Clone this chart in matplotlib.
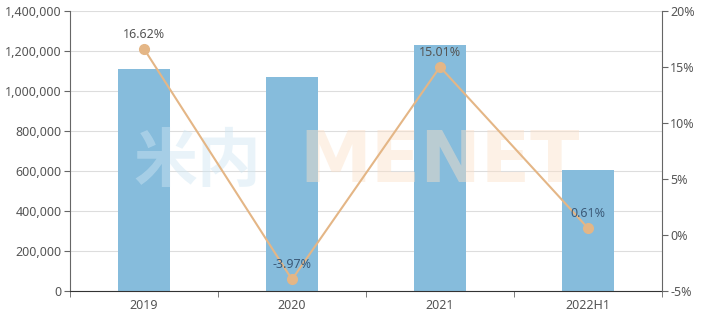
import matplotlib
matplotlib.use("Agg")
import matplotlib.pyplot as plt
from matplotlib.ticker import FuncFormatter, FixedLocator

plt.rcParams['font.family'] = ['Noto Sans', 'DejaVu Sans']

categories = ['2019', '2020', '2021', '2022H1']
volume = [1110000, 1068000, 1230000, 605000]
growth = [16.62, -3.97, 15.01, 0.61]

bar_color = '#86bcdc'
line_color = '#e4b686'
text_color = '#555555'
axis_color = '#666666'

fig = plt.figure(figsize=(7.02, 3.18), dpi=100)
ax = fig.add_axes([70 / 702, 27 / 318, 592 / 702, 280 / 318])
x = list(range(len(categories)))

ax.bar(x, volume, width=0.35, color=bar_color, zorder=2)
ax.set_xlim(-0.5, len(categories) - 0.5)
ax.set_ylim(0, 1400000)
ax.set_yticks(range(0, 1400001, 200000))
ax.yaxis.set_major_formatter(FuncFormatter(lambda v, p: f'{int(v):,}'))
ax.set_xticks(x)
ax.set_xticklabels(categories)
ax.xaxis.set_minor_locator(FixedLocator([i - 0.5 for i in range(len(categories) + 1)]))
ax.tick_params(axis='x', which='major', length=0, pad=6, labelsize=9, labelcolor=text_color)
ax.tick_params(axis='x', which='minor', length=4, color=axis_color)
ax.tick_params(axis='y', length=4, color=axis_color, labelsize=9, labelcolor=text_color, pad=2)
ax.grid(axis='y', color='#dddddd', linewidth=0.8, zorder=0)
for side in ['top', 'right']:
    ax.spines[side].set_visible(False)
ax.spines['left'].set_color(axis_color)
ax.spines['bottom'].set_color('#333333')

# faint watermark over the bars
ax.text(0.215, 0.46, '米内', transform=ax.transAxes, fontsize=46, fontweight='bold',
        color='#cfe6f3', alpha=0.45, ha='center', va='center', zorder=2.5,
        family=['Noto Sans CJK SC', 'DejaVu Sans'])
ax.text(0.625, 0.46, 'MENET', transform=ax.transAxes, fontsize=52, fontweight='bold',
        color='#fbe0c8', alpha=0.45, ha='center', va='center', zorder=2.5,
        family=['DejaVu Sans'])

ax2 = ax.twinx()
ax2.set_ylim(-5, 20)
ax2.set_yticks(range(-5, 21, 5))
ax2.yaxis.set_major_formatter(FuncFormatter(lambda v, p: f'{int(v)}%'))
ax2.tick_params(axis='y', length=4, color=axis_color, labelsize=9, labelcolor=text_color, pad=2)
for side in ['top', 'left', 'bottom']:
    ax2.spines[side].set_visible(False)
ax2.spines['right'].set_color(axis_color)
ax2.plot(x, growth, color=line_color, linewidth=1.5, marker='o', markersize=7, zorder=3)
for xi, g in zip(x, growth):
    ax2.annotate(f'{g:.2f}%', (xi, g), xytext=(0, 6), textcoords='offset points',
                 ha='center', va='bottom', fontsize=9,
                 color='#3c5a78' if g < 5 else text_color)

fig.savefig('out.png', dpi=100)
